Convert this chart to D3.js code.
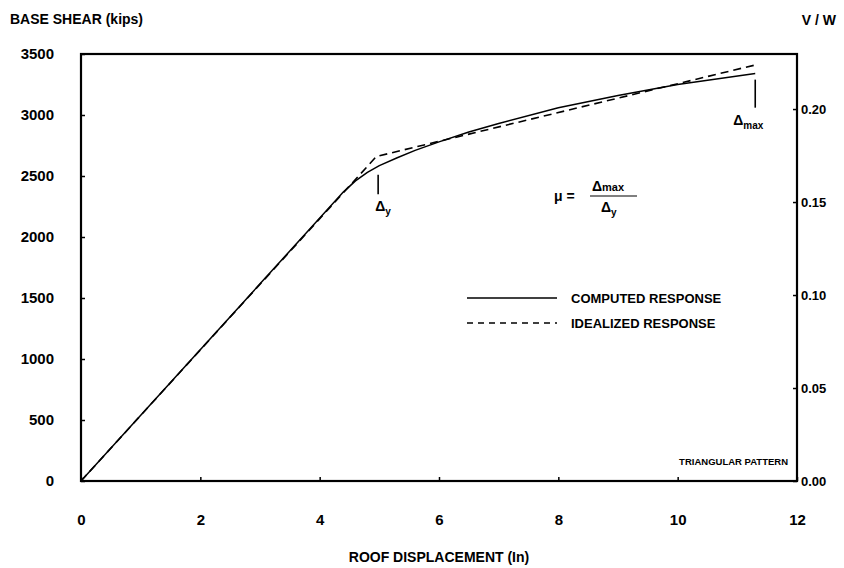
<!DOCTYPE html>
<html>
<head>
<meta charset="utf-8">
<script src="https://cdn.jsdelivr.net/npm/d3@7"></script>
<style>
  body { margin: 0; background: #fff; }
  text { font-family: "Liberation Sans", Arial, sans-serif; fill: #000; }
</style>
</head>
<body>
<div id="chart"></div>
<script>
// roof displacement (in) vs base shear (kips)
const computedDisp = [0, 4.4, 4.6, 4.8, 5.0, 5.3, 5.6, 6.0, 6.5, 7.0, 8.0, 9.0, 10.0, 11.3];
const computedShear = [0, 2370, 2460, 2530, 2585, 2650, 2710, 2780, 2860, 2930, 3060, 3160, 3250, 3340];
const idealDisp = [0, 4.95, 11.3];
const idealShear = [0, 2660, 3410];
const xTicks = [0, 2, 4, 6, 8, 10, 12];
const yTicks = [0, 500, 1000, 1500, 2000, 2500, 3000, 3500];
const vwTicks = [0, 0.05, 0.1, 0.15, 0.2];
const vwMax = 0.2296; // V/W at 3500 kips
const dispYield = 4.98;
const dispMax = 11.3;

const width = 844;
const height = 568;
const m = { left: 81, right: 47, top: 54, bottom: 87 };

const svg = d3.select("#chart")
  .append("svg")
  .attr("width", width)
  .attr("height", height);

const x = d3.scaleLinear().domain([0, 12]).range([m.left, width - m.right]);
const y = d3.scaleLinear().domain([0, 3500]).range([height - m.bottom, m.top]);
const yr = d3.scaleLinear().domain([0, vwMax]).range([height - m.bottom, m.top]);

const xAxis = svg.append("g")
  .attr("transform", `translate(0,${height - m.bottom})`)
  .call(d3.axisBottom(x).tickValues(xTicks).tickSize(-4).tickPadding(33));
const yAxis = svg.append("g")
  .attr("transform", `translate(${m.left},0)`)
  .call(d3.axisLeft(y).tickValues(yTicks).tickFormat(d3.format("d")).tickSize(-4).tickPadding(27));
const rAxis = svg.append("g")
  .attr("transform", `translate(${width - m.right},0)`)
  .call(d3.axisRight(yr).tickValues(vwTicks).tickFormat(d3.format(".2f")).tickSize(-4).tickPadding(4));

[xAxis, yAxis, rAxis].forEach(g => {
  g.select(".domain").remove();
  g.selectAll("text").style("font-weight", "bold").attr("fill", "#000");
  g.selectAll("line").attr("stroke", "#000").attr("stroke-width", 1.5);
});
xAxis.selectAll("text").style("font-size", "15px");
yAxis.selectAll("text").style("font-size", "15px");
rAxis.selectAll("text").style("font-size", "13px");

svg.append("rect")
  .attr("x", m.left)
  .attr("y", m.top)
  .attr("width", width - m.left - m.right)
  .attr("height", height - m.top - m.bottom)
  .attr("fill", "none")
  .attr("stroke", "#000")
  .attr("stroke-width", 2.2);

const line = d3.line().x(d => x(d[0])).y(d => y(d[1]));

svg.append("path")
  .datum(d3.zip(computedDisp, computedShear))
  .attr("d", line)
  .attr("fill", "none")
  .attr("stroke", "#000")
  .attr("stroke-width", 1.5)
  .attr("stroke-linejoin", "round");

svg.append("path")
  .datum(d3.zip(idealDisp, idealShear))
  .attr("d", line)
  .attr("fill", "none")
  .attr("stroke", "#000")
  .attr("stroke-width", 1.6)
  .attr("stroke-dasharray", "8,5");

// titles
svg.append("text").attr("x", 10).attr("y", 24)
  .style("font-size", "14px").style("font-weight", "bold")
  .text("BASE SHEAR (kips)");
svg.append("text").attr("x", 836).attr("y", 25).attr("text-anchor", "end")
  .style("font-size", "14px").style("font-weight", "bold")
  .text("V / W");
svg.append("text").attr("x", x(6)).attr("y", 562).attr("text-anchor", "middle")
  .style("font-size", "14px").style("font-weight", "bold")
  .text("ROOF DISPLACEMENT (In)");

// delta markers
const marker = (disp, y1, y2, label, sub, dx) => {
  svg.append("line")
    .attr("x1", x(disp)).attr("x2", x(disp))
    .attr("y1", y(y1)).attr("y2", y(y2))
    .attr("stroke", "#000").attr("stroke-width", 1.6);
  const t = svg.append("text")
    .attr("x", x(disp) + dx).attr("y", y(y2) + 17)
    .style("font-size", "14px").style("font-weight", "bold");
  t.append("tspan").text(label);
  t.append("tspan").attr("dy", 4).style("font-size", "10px").text(sub);
};
marker(dispYield, 2510, 2350, "\u0394", "y", -3);
marker(dispMax, 3290, 3060, "\u0394", "max", -22);

// ductility formula
const fx = 590, fy = 196;
svg.append("text").attr("x", 554).attr("y", fy + 5)
  .style("font-size", "14px").style("font-weight", "bold").text("\u03bc  =");
svg.append("line").attr("x1", fx).attr("x2", fx + 47).attr("y1", fy).attr("y2", fy)
  .attr("stroke", "#000").attr("stroke-width", 1.2);
const num = svg.append("text").attr("x", fx + 2).attr("y", fy - 5)
  .style("font-size", "14px").style("font-weight", "bold");
num.append("tspan").text("\u0394");
num.append("tspan").style("font-size", "11px").text("max");
const den = svg.append("text").attr("x", fx + 11).attr("y", fy + 16)
  .style("font-size", "14px").style("font-weight", "bold");
den.append("tspan").text("\u0394");
den.append("tspan").attr("dy", 4).style("font-size", "10px").text("y");

// legend
const legend = [
  { label: "COMPUTED RESPONSE", dash: null, y: 298 },
  { label: "IDEALIZED RESPONSE", dash: "6,5", y: 323 }
];
legend.forEach(l => {
  svg.append("line")
    .attr("x1", 467).attr("x2", 557).attr("y1", l.y).attr("y2", l.y)
    .attr("stroke", "#000").attr("stroke-width", 1.6)
    .attr("stroke-dasharray", l.dash);
  svg.append("text").attr("x", 571).attr("y", l.y + 5)
    .style("font-size", "13px").style("font-weight", "bold").text(l.label);
});

svg.append("text").attr("x", 788).attr("y", 465).attr("text-anchor", "end")
  .style("font-size", "9.5px").style("font-weight", "bold")
  .text("TRIANGULAR PATTERN");
</script>
</body>
</html>
